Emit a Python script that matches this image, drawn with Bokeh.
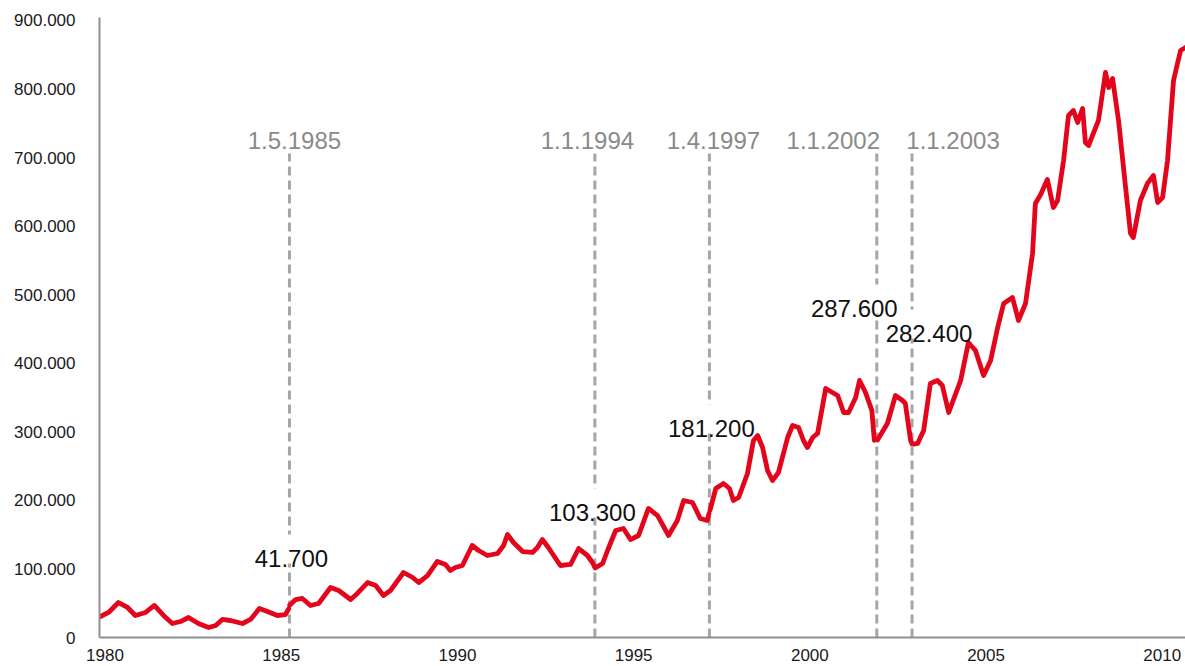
import numpy as np
from bokeh.plotting import figure
from bokeh.models import Range1d, FixedTicker, CustomJSTickFormatter, Label
from bokeh.embed import file_html
from bokeh.resources import INLINE

# ---------------- data (values in thousands) ----------------
seg1_year = [1979.97, 1980.20, 1980.48, 1980.74, 1980.96, 1981.25, 1981.50, 1981.76,
             1982.01, 1982.24, 1982.47, 1982.75, 1983.04, 1983.24, 1983.43, 1983.66,
             1984.00, 1984.23, 1984.48, 1984.71, 1984.99, 1985.22, 1985.31]
seg1_val = [30.6, 36.5, 51.0, 43.8, 32.1, 36.5, 46.7, 32.1,
            20.4, 23.3, 29.2, 20.4, 14.6, 17.5, 26.3, 24.8,
            20.4, 26.3, 42.3, 37.9, 32.1, 33.5, 41.7]

seg2_year = [1985.34, 1985.51, 1985.70, 1985.93, 1986.16, 1986.50, 1986.73, 1987.07,
             1987.26, 1987.55, 1987.78, 1988.00, 1988.20, 1988.57, 1988.83, 1989.00,
             1989.25, 1989.53, 1989.76, 1989.90, 1990.04, 1990.24, 1990.52, 1990.70,
             1990.95, 1991.24, 1991.41, 1991.52, 1991.69, 1991.95, 1992.23, 1992.37,
             1992.51, 1992.68, 1993.02, 1993.31, 1993.54, 1993.79, 1993.93, 1993.99]
seg2_val = [47.0, 55.4, 56.9, 46.7, 49.6, 72.9, 68.6, 55.4,
            64.2, 80.2, 75.8, 61.3, 68.6, 94.8, 87.5, 80.2,
            90.4, 110.9, 106.5, 97.7, 102.1, 105.0, 134.2, 126.9,
            119.6, 122.5, 134.2, 150.2, 138.6, 125.4, 124.0, 131.3,
            142.9, 131.3, 105.0, 106.5, 129.8, 119.6, 109.4, 103.3]

seg3_year = [1994.01, 1994.22, 1994.36, 1994.59, 1994.81, 1995.01, 1995.24, 1995.52,
             1995.78, 1996.09, 1996.34, 1996.52, 1996.77, 1996.99, 1997.19, 1997.24]
seg3_val = [101.5, 107.9, 126.9, 156.1, 159.0, 142.9, 148.8, 188.2,
            177.9, 148.8, 170.7, 199.8, 196.9, 173.6, 170.7, 181.2]

seg4_year = [1997.27, 1997.43, 1997.65, 1997.82, 1997.93, 1998.08, 1998.33, 1998.50,
             1998.62, 1998.76, 1998.90, 1999.04, 1999.21, 1999.47, 1999.61, 1999.78,
             1999.92, 2000.03, 2000.18, 2000.32, 2000.55, 2000.74, 2000.89, 2001.06,
             2001.20, 2001.40, 2001.51, 2001.68, 2001.86, 2001.93]
seg4_val = [186.0, 217.3, 224.6, 217.3, 199.8, 204.2, 239.2, 287.3,
            294.6, 277.1, 243.6, 229.0, 240.7, 291.7, 309.2, 306.3,
            287.3, 277.1, 291.7, 297.6, 363.2, 357.4, 353.0, 328.2,
            328.2, 350.1, 374.9, 357.4, 331.1, 287.6]

seg5_year = [2002.02, 2002.30, 2002.53, 2002.73, 2002.81, 2002.96, 2003.00]
seg5_val = [288.0, 312.1, 353.0, 345.7, 341.3, 287.3, 282.4]

seg6_year = [2003.05, 2003.16, 2003.33, 2003.52, 2003.72, 2003.86, 2004.04, 2004.38,
             2004.60, 2004.80, 2005.03, 2005.23, 2005.43, 2005.60, 2005.85, 2006.02,
             2006.22, 2006.42, 2006.50, 2006.65, 2006.84, 2007.01, 2007.13, 2007.30,
             2007.44, 2007.58, 2007.70, 2007.84, 2007.92, 2008.01, 2008.29, 2008.49,
             2008.58, 2008.69, 2008.86, 2009.06, 2009.20, 2009.28, 2009.48, 2009.68,
             2009.85, 2009.97, 2010.11, 2010.25, 2010.42, 2010.62, 2010.76]
seg6_val = [282.0, 283.0, 301.9, 370.5, 374.9, 367.6, 328.2, 374.9,
            430.3, 418.6, 382.2, 404.0, 452.2, 487.2, 495.9, 462.4,
            487.2, 560.1, 633.0, 646.2, 668.0, 627.2, 637.4, 695.7,
            761.4, 768.7, 751.2, 771.6, 722.0, 717.6, 754.1, 824.1,
            802.2, 815.4, 754.1, 656.4, 589.3, 583.4, 637.4, 662.2,
            673.9, 634.5, 641.8, 695.7, 812.4, 856.2, 860.6]

break_dates = [1985 + 4 / 12, 1994.0, 1997.25, 2002.0, 2003.0]
break_labels = ["1.5.1985", "1.1.1994", "1.4.1997", "1.1.2002", "1.1.2003"]
break_values = [41700, 103300, 181200, 287600, 282400]

x_tick_years = [1980, 1985, 1990, 1995, 2000, 2005, 2010]
y_ticks = [0, 100000, 200000, 300000, 400000, 500000, 600000, 700000, 800000, 900000]

# ---------------- layout / style constants ----------------
FONT = "Liberation Sans"
RED = "#e3051b"
DASH_GRAY = "#a6a6a6"
AXIS_GRAY = "#8f8f8f"
DATE_GRAY = "#8a8a8a"
PX_PER_YEAR = 35.24
PX_PER_UNIT = 620.0 / 904300.0
value_label_dx = [2, -2.5, 2, -22.5, 17]
value_label_y = [115200, 182300, 304800, 479900, 443400]
date_label_dx = [5, -7.5, 4, -43.5, 41]
date_label_y = 725000
dash_top = 706000

p = figure(width=1185, height=666,
           x_range=Range1d(1979.943, 2010.76), y_range=Range1d(0, 904300),
           output_backend="svg", toolbar_location=None,
           min_border_left=99, min_border_right=0,
           min_border_top=17, min_border_bottom=29)
p.outline_line_color = None
p.xgrid.visible = False
p.ygrid.visible = False
p.background_fill_color = "white"
p.border_fill_color = "white"

# axes
for ax in (p.xaxis[0], p.yaxis[0]):
    ax.axis_line_color = AXIS_GRAY
    ax.axis_line_width = 2
    ax.major_tick_line_color = None
    ax.minor_tick_line_color = None
    ax.major_tick_out = 0
    ax.major_tick_in = 0
    ax.minor_tick_out = 0
    ax.minor_tick_in = 0
    ax.major_label_text_font = FONT
    ax.major_label_text_font_size = "17px"
    ax.major_label_text_color = "#1a1a1a"

p.yaxis.ticker = FixedTicker(ticks=y_ticks)
p.yaxis.formatter = CustomJSTickFormatter(
    code='return Math.round(tick).toString().replace(/\\B(?=(\\d{3})+(?!\\d))/g, ".");')
p.yaxis.major_label_standoff = 24

p.xaxis.ticker = FixedTicker(ticks=[y + 0.1 for y in x_tick_years])
p.xaxis.formatter = CustomJSTickFormatter(code="return Math.round(tick).toString();")
p.xaxis.major_label_standoff = 11

# dashed break lines
p.segment(x0=break_dates, y0=[0] * len(break_dates), x1=break_dates,
          y1=[dash_top] * len(break_dates),
          line_color=DASH_GRAY, line_width=3, line_dash="9 5")

# white boxes behind the value labels (cut the dashed lines like the original)
value_texts = [f"{v:,}".replace(",", ".") for v in break_values]
lefts, rights, bottoms, tops = [], [], [], []
for d, txt, dx, ly in zip(break_dates, value_texts, value_label_dx, value_label_y):
    w = sum(6.7 if c == "." else 13.35 for c in txt) + 6
    cx = d + dx / PX_PER_YEAR
    lefts.append(cx - w / 2 / PX_PER_YEAR)
    rights.append(cx + w / 2 / PX_PER_YEAR)
    bottoms.append(ly - 5 / PX_PER_UNIT)
    tops.append(ly + 24 / PX_PER_UNIT)
p.quad(left=lefts, right=rights, bottom=bottoms, top=tops,
       fill_color="white", line_color=None)

# series segments
segments = [(seg1_year, seg1_val), (seg2_year, seg2_val), (seg3_year, seg3_val),
            (seg4_year, seg4_val), (seg5_year, seg5_val), (seg6_year, seg6_val)]
for yrs, vals in segments:
    p.line(yrs, np.array(vals) * 1000, line_color=RED, line_width=4.8,
           line_cap="round", line_join="round")

# labels
for d, lab, dx in zip(break_dates, break_labels, date_label_dx):
    p.add_layout(Label(x=d, y=date_label_y, x_offset=dx, text=lab,
                       text_align="center", text_baseline="alphabetic",
                       text_font=FONT, text_font_size="24px", text_color=DATE_GRAY))

for d, txt, dx, ly in zip(break_dates, value_texts, value_label_dx, value_label_y):
    p.add_layout(Label(x=d, y=ly, x_offset=dx, text=txt,
                       text_align="center", text_baseline="alphabetic",
                       text_font=FONT, text_font_size="24px", text_color="#111111"))

open("out.html", "w").write(file_html(p, INLINE))
